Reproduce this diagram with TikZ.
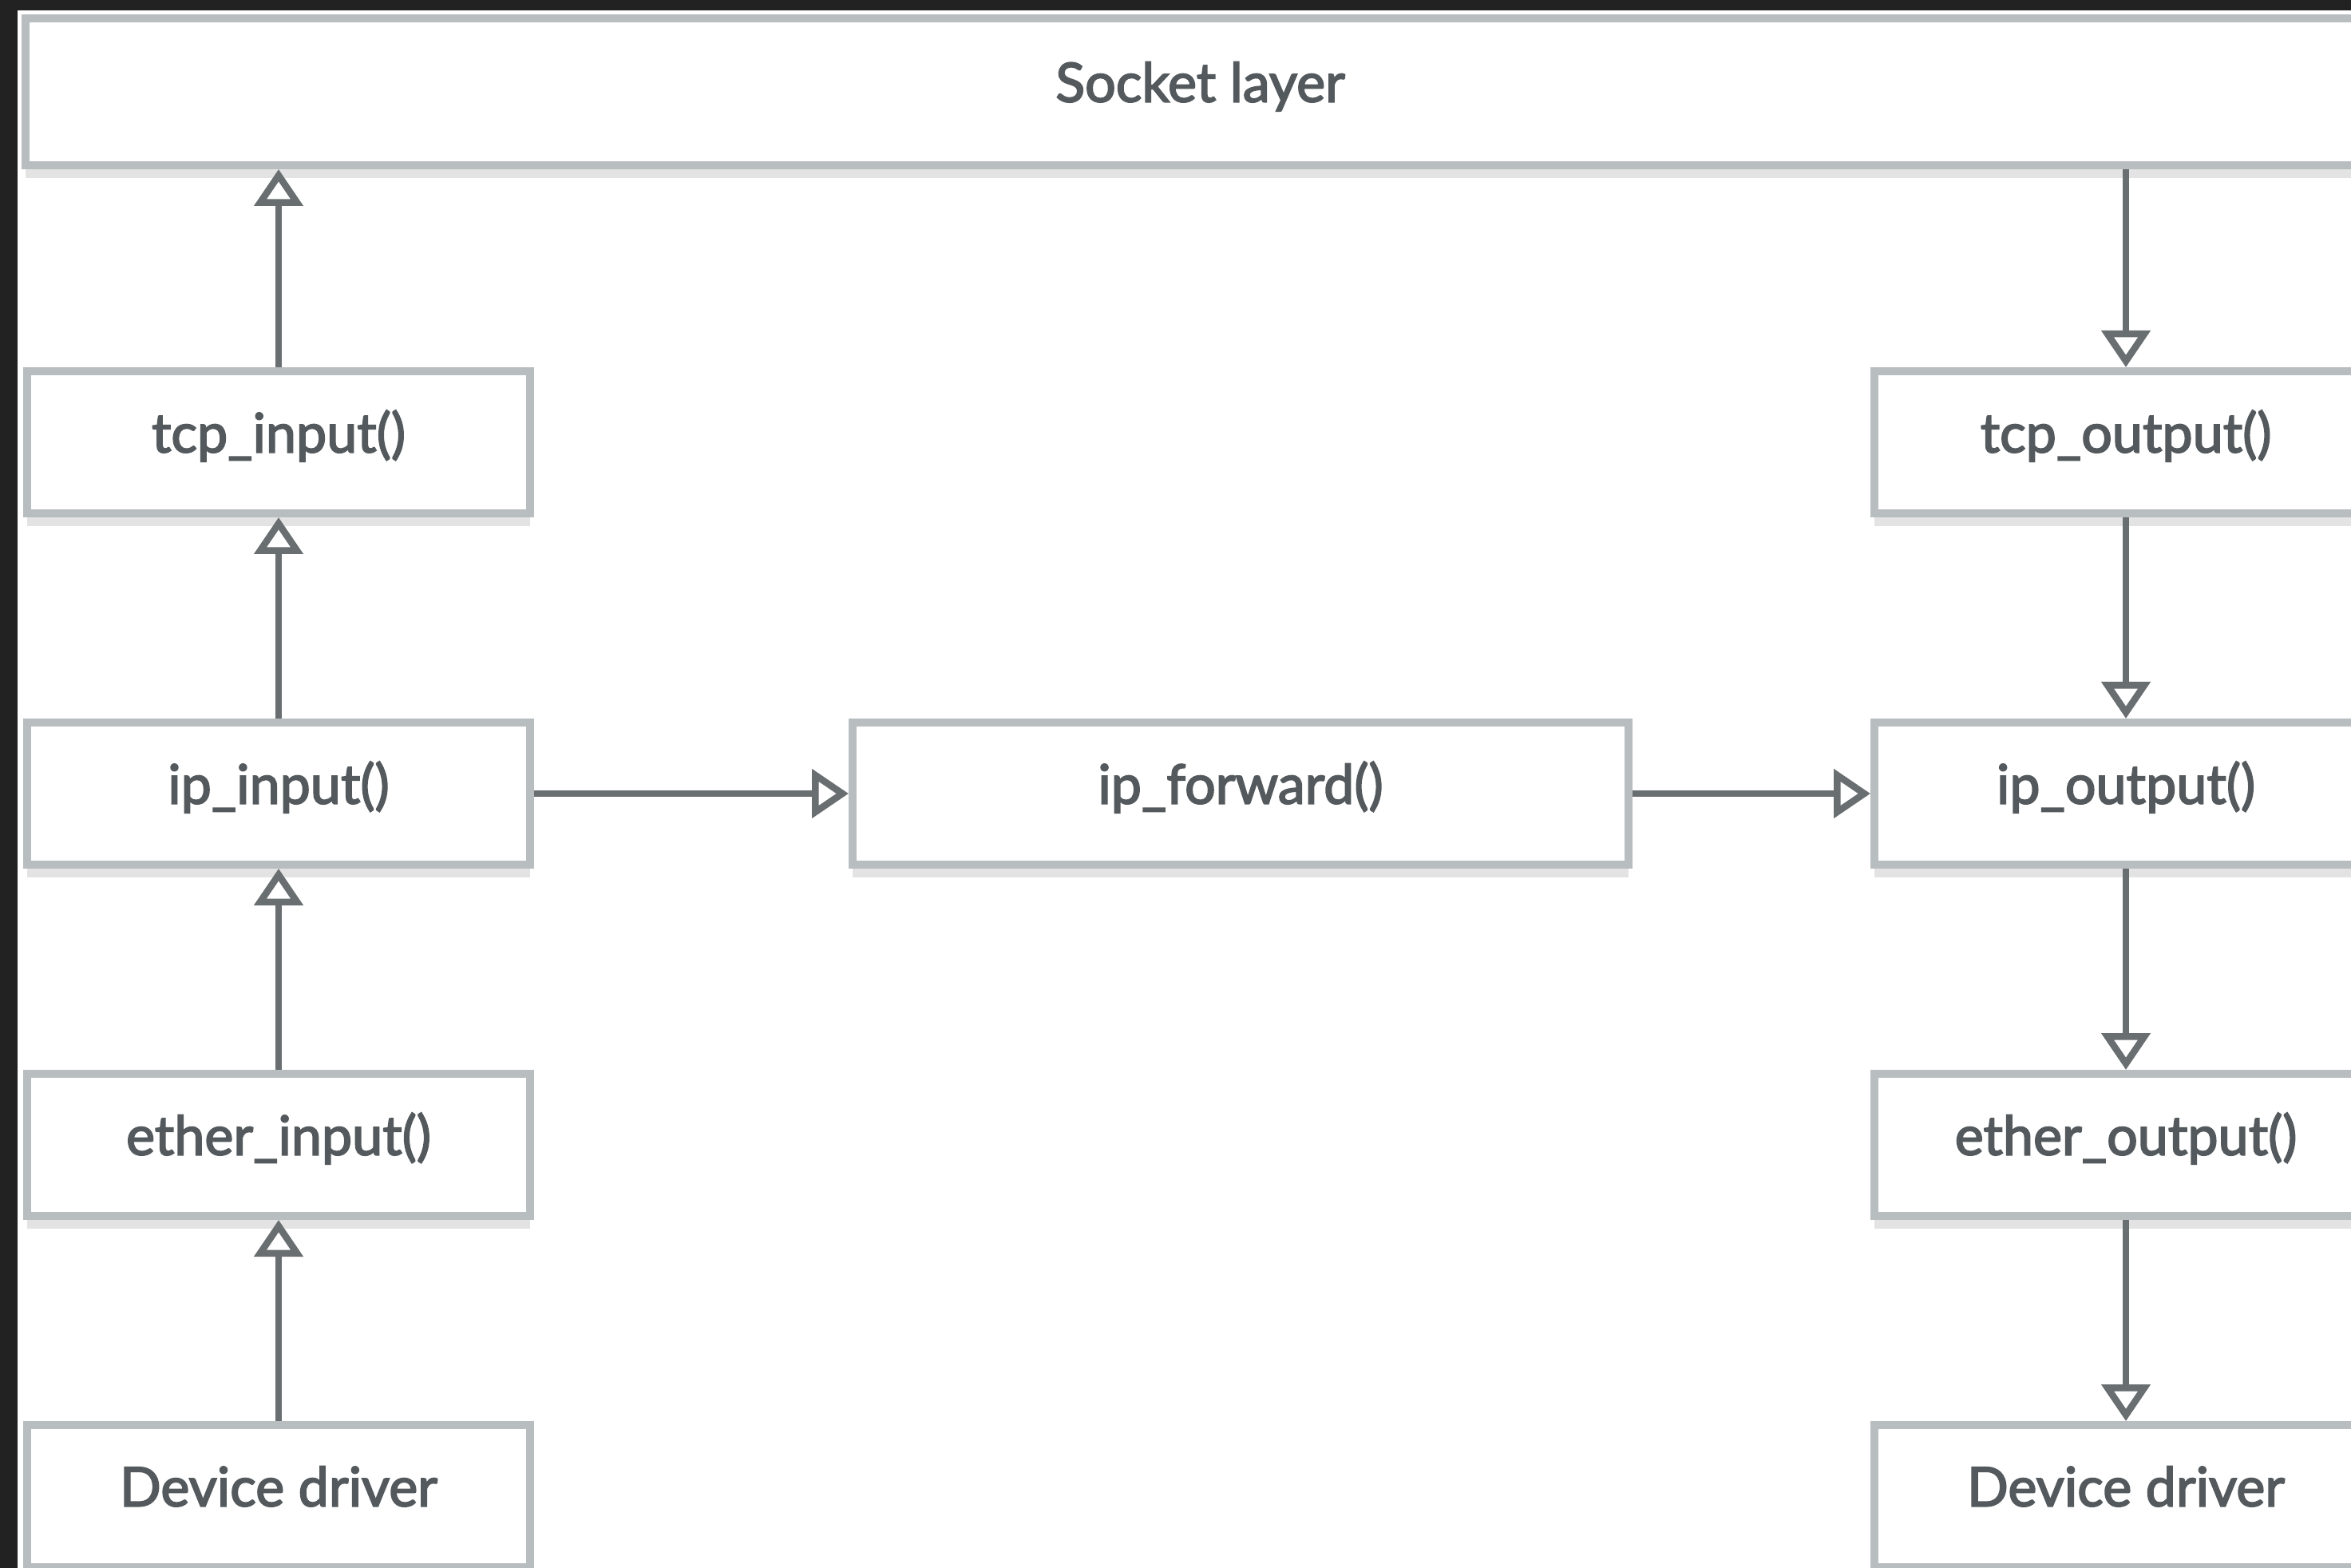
\documentclass[tikz,border=0pt]{standalone}
\usepackage{fontspec}
\setmainfont{Lato}[FakeBold=2.6]
\usetikzlibrary{arrows.meta,shadows}

\definecolor{fundo}{HTML}{222222}
\definecolor{borda}{HTML}{B8BDBF}
\definecolor{sombra}{HTML}{E3E3E3}
\definecolor{seta}{HTML}{696E70}
\definecolor{texto}{HTML}{53595C}

\begin{document}
\begin{tikzpicture}[
    caixa/.style={draw=borda, line width=1mm, fill=white, text=texto,
        minimum width=6.3cm, minimum height=1.78cm,
        font=\fontsize{19.4}{21}\selectfont, text height=0.75em, text depth=0.03em,
        drop shadow={shadow xshift=0pt, shadow yshift=-1.6mm, fill=sombra, opacity=1}},
    fluxo/.style={draw=seta, line width=0.85mm,
        -{Triangle[open, length=4.6mm, width=6mm]}}
]
            \useasboundingbox (0,0) rectangle (29.45,-19.64);
            \fill[fundo] (0,0) rectangle (29.45,-19.64);
            \fill[white] (0.22,-0.13) rectangle (29.45,-19.64);

            \node[caixa, minimum width=29.43cm, minimum height=1.84cm] (socket) at (15.035,-1.15) {Socket layer};

            % entrada
            \node[caixa] (tcpin)   at (3.49,-5.54)  {tcp\_input()};
            \node[caixa] (ipin)    at (3.49,-9.94)  {ip\_input()};
            \node[caixa] (etherin) at (3.49,-14.34) {ether\_input()};
            \node[caixa] (devin)   at (3.49,-18.74) {Device driver};

            \node[caixa, minimum width=9.72cm] (ipfwd) at (15.54,-9.94) {ip\_forward()};

            % saida
            \node[caixa] (tcpout)   at (26.63,-5.54)  {tcp\_output()};
            \node[caixa] (ipout)    at (26.63,-9.94)  {ip\_output()};
            \node[caixa] (etherout) at (26.63,-14.34) {ether\_output()};
            \node[caixa] (devout)   at (26.63,-18.74) {Device driver};

            \draw[fluxo] (devin) -- (etherin);
            \draw[fluxo] (etherin) -- (ipin);
            \draw[fluxo] (ipin) -- (tcpin);
            \draw[fluxo] (tcpin.north) -- (tcpin.north |- socket.south);

            \draw[fluxo] (ipin) -- (ipfwd);
            \draw[fluxo] (ipfwd) -- (ipout);

            \draw[fluxo] (socket.south -| tcpout.north) -- (tcpout.north);
            \draw[fluxo] (tcpout) -- (ipout);
            \draw[fluxo] (ipout) -- (etherout);
            \draw[fluxo] (etherout) -- (devout);
        \end{tikzpicture}
\end{document}
